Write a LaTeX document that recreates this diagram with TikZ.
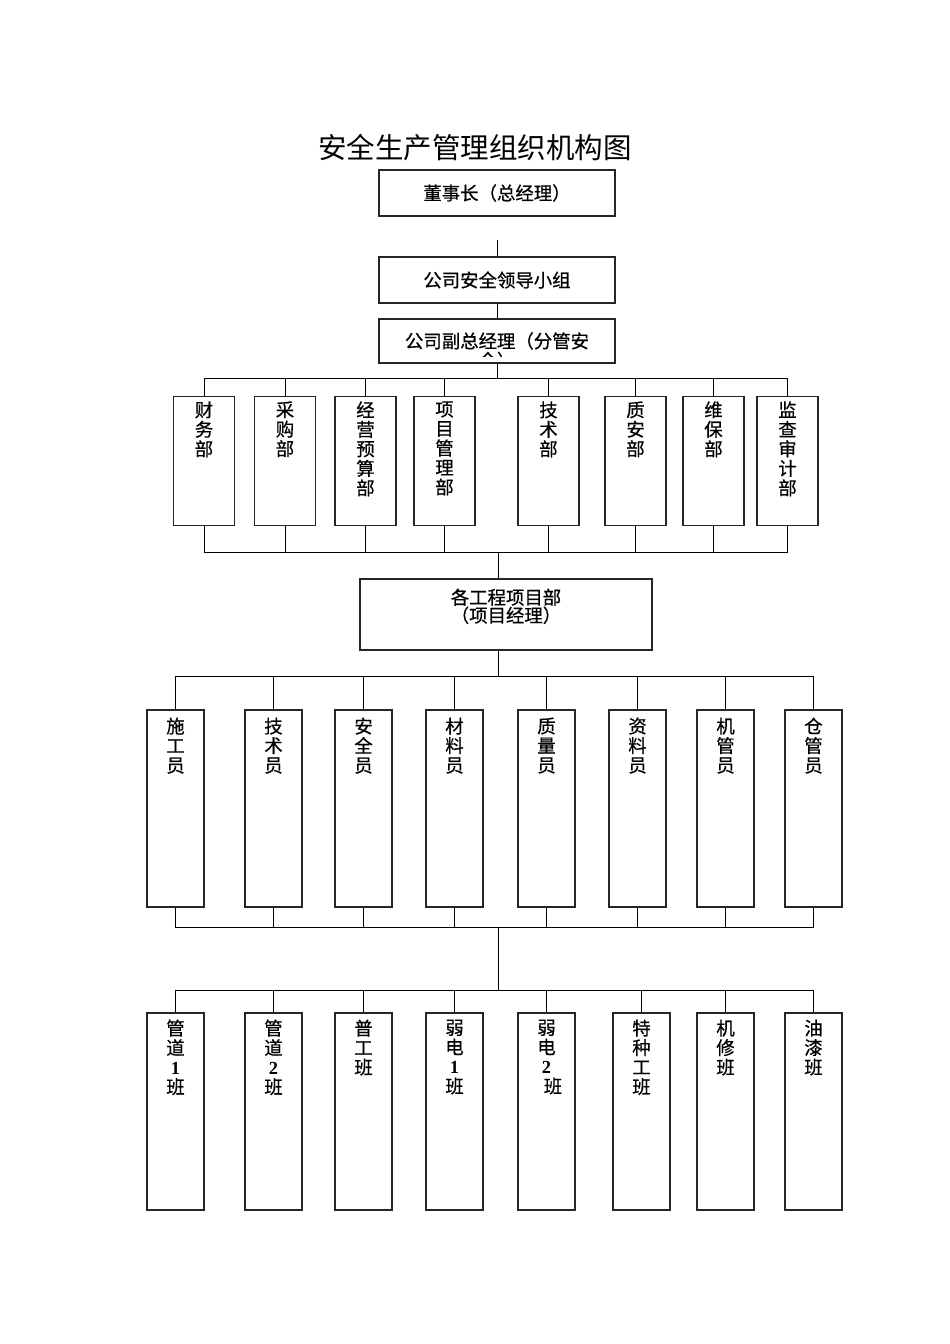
\documentclass[tikz,border=0pt]{standalone}
\usepackage{fontspec}
\setmainfont{Noto Sans CJK SC}
\newfontfamily\boxfont[FakeBold=0.6]{Noto Sans CJK SC}
\newfontfamily\numfont{Liberation Serif}
\newcommand{\num}[1]{{\numfont\bfseries #1}}

\begin{document}
\begin{tikzpicture}[x=1pt,y=-1pt,
		box/.style={draw=black!85, line width=1.1pt, inner sep=0pt, font=\boxfont\fontsize{18.4}{19.5}\selectfont},
		coltext/.style={anchor=north, inner sep=0pt, align=center, font=\boxfont\fontsize{18.4}{19.5}\selectfont},
		dept/.style={box, minimum width=61pt, minimum height=129.5pt, label={[coltext, yshift=-5.5pt]north:#1}},
		staff/.style={box, minimum width=57pt, minimum height=197pt, label={[coltext, yshift=-8pt]north:#1}},
		team/.style={box, minimum width=57pt, minimum height=197pt, label={[coltext, yshift=-7pt]north:#1}},
		link/.style={line width=1pt}]
	\fill[white] (0,0) rectangle (950,1344);
	\node (title) at (475,148) {\fontsize{28.5}{30}\selectfont 安全生产管理组织机构图};

	\node[box, minimum width=236pt, minimum height=46pt] (A) at (497,193) {董事长（总经理）};
	\node[box, minimum width=236pt, minimum height=46pt] (B) at (497,280) {公司安全领导小组};
	\node[box, minimum width=236pt, minimum height=44pt] (C) at (497,341) {};
	\begin{scope}
		\clip (379,319) rectangle (615,356);
		\node[coltext] (Ctext) at (497,332) {公司副总经理（分管安\\全）};
	\end{scope}
	\coordinate (gap) at (497,240);
	\draw[link] (gap) -- (B.north);
	\draw[link] (B) -- (C);

	\node[dept={财\\务\\部}] (D1) at (204,461) {};
	\node[dept={采\\购\\部}] (D2) at (285,461) {};
	\node[dept={经\\营\\预\\算\\部}] (D3) at (365.5,461) {};
	\node[dept={项\\目\\管\\理\\部}] (D4) at (444.5,461) {};
	\node[dept={技\\术\\部}] (D5) at (548.5,461) {};
	\node[dept={质\\安\\部}] (D6) at (635.5,461) {};
	\node[dept={维\\保\\部}] (D7) at (713.5,461) {};
	\node[dept={监\\查\\审\\计\\部}] (D8) at (787.5,461) {};
	\coordinate (busA) at (497,378);
	\coordinate (busB) at (498,552);
	\draw[link] (C.south) -- (busA);
	\draw[link] (D1.north) |- (busA);
	\draw[link] (D2.north) |- (busA);
	\draw[link] (D3.north) |- (busA);
	\draw[link] (D4.north) |- (busA);
	\draw[link] (D5.north) |- (busA);
	\draw[link] (D6.north) |- (busA);
	\draw[link] (D7.north) |- (busA);
	\draw[link] (D8.north) |- (busA);
	\draw[link] (D1.south) |- (busB);
	\draw[link] (D2.south) |- (busB);
	\draw[link] (D3.south) |- (busB);
	\draw[link] (D4.south) |- (busB);
	\draw[link] (D5.south) |- (busB);
	\draw[link] (D6.south) |- (busB);
	\draw[link] (D7.south) |- (busB);
	\draw[link] (D8.south) |- (busB);

	\node[box, minimum width=292pt, minimum height=71pt,
		label={[coltext, yshift=-10pt, font=\boxfont\fontsize{18.4}{18}\selectfont]north:各工程项目部\\（项目经理）}] (P) at (506,614.5) {};
	\draw[link] (busB) -- (busB |- P.north);

	\node[staff={施\\工\\员}] (S1) at (175.5,808.5) {};
	\node[staff={技\\术\\员}] (S2) at (273.5,808.5) {};
	\node[staff={安\\全\\员}] (S3) at (363.5,808.5) {};
	\node[staff={材\\料\\员}] (S4) at (454.5,808.5) {};
	\node[staff={质\\量\\员}] (S5) at (546.5,808.5) {};
	\node[staff={资\\料\\员}] (S6) at (637.5,808.5) {};
	\node[staff={机\\管\\员}] (S7) at (725.5,808.5) {};
	\node[staff={仓\\管\\员}] (S8) at (813.5,808.5) {};
	\coordinate (busC) at (498.5,676);
	\coordinate (busD) at (498.5,927);
	\coordinate (busE) at (498.5,990);
	\draw[link] (busC |- P.south) -- (busC);
	\draw[link] (S1.north) |- (busC);
	\draw[link] (S2.north) |- (busC);
	\draw[link] (S3.north) |- (busC);
	\draw[link] (S4.north) |- (busC);
	\draw[link] (S5.north) |- (busC);
	\draw[link] (S6.north) |- (busC);
	\draw[link] (S7.north) |- (busC);
	\draw[link] (S8.north) |- (busC);
	\draw[link] (S1.south) |- (busD);
	\draw[link] (S2.south) |- (busD);
	\draw[link] (S3.south) |- (busD);
	\draw[link] (S4.south) |- (busD);
	\draw[link] (S5.south) |- (busD);
	\draw[link] (S6.south) |- (busD);
	\draw[link] (S7.south) |- (busD);
	\draw[link] (S8.south) |- (busD);
	\draw[link] (busD) -- (busE);

	\node[team={管\\道\\\num{1}\\班}] (T1) at (175.5,1111.5) {};
	\node[team={管\\道\\\num{2}\\班}] (T2) at (273.5,1111.5) {};
	\node[team={普\\工\\班}] (T3) at (363.5,1111.5) {};
	\node[team={弱\\电\\\num{1}\\班}] (T4) at (454.5,1111.5) {};
	\node[team={弱\\电\\\num{2}\\\hspace*{0.7em}班}] (T5) at (546.5,1111.5) {};
	\node[team={特\\种\\工\\班}] (T6) at (641.5,1111.5) {};
	\node[team={机\\修\\班}] (T7) at (725.5,1111.5) {};
	\node[team={油\\漆\\班}] (T8) at (813.5,1111.5) {};
	\draw[link] (T1.north) |- (busE);
	\draw[link] (T2.north) |- (busE);
	\draw[link] (T3.north) |- (busE);
	\draw[link] (T4.north) |- (busE);
	\draw[link] (T5.north) |- (busE);
	\draw[link] (T6.north) |- (busE);
	\draw[link] (T7.north) |- (busE);
	\draw[link] (T8.north) |- (busE);
\end{tikzpicture}
\end{document}
